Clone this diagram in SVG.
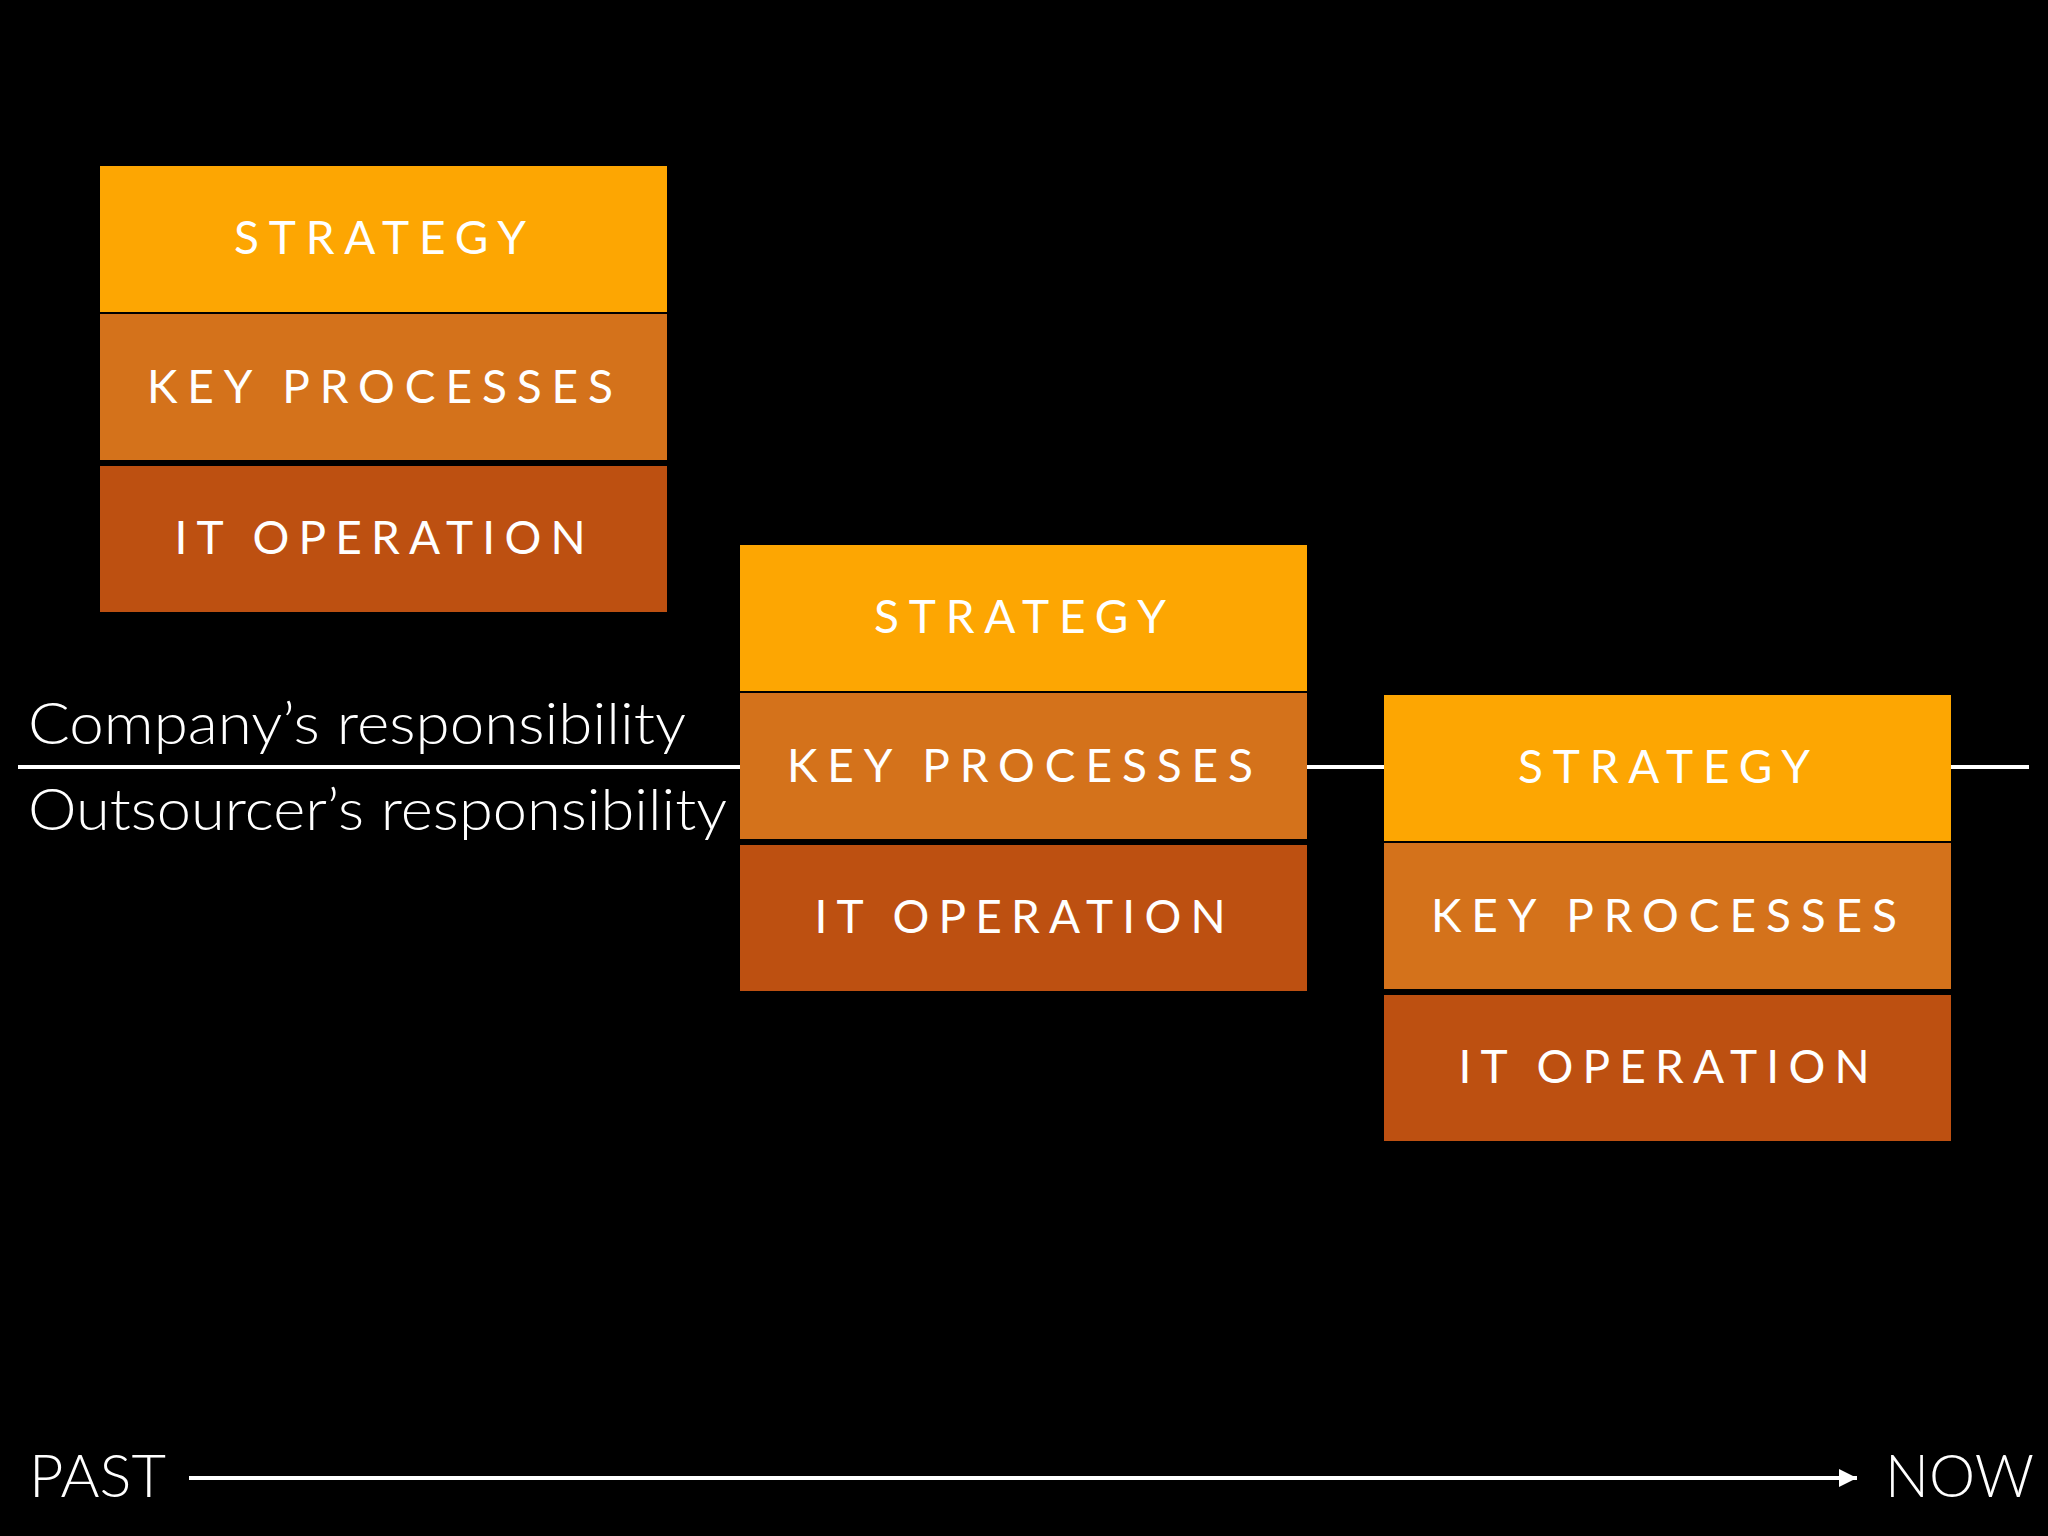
<svg xmlns="http://www.w3.org/2000/svg" width="2048" height="1536" viewBox="0 0 2048 1536">
  <defs>
    <style>
      .bg { fill: #000000; }
      .strategy { fill: #FDA602; }
      .keyproc { fill: #D4721B; }
      .itop { fill: #BD5011; }
      .band-label { font-family: "Lato", "Noto Sans", "Liberation Sans", sans-serif; font-size: 46px; fill: #FFFFFF; text-anchor: middle; }
      .resp { font-family: "Lato", "Noto Sans", "Liberation Sans", sans-serif; font-weight: 300; font-size: 58px; fill: #FFFFFF; }
      .time { font-family: "Lato", "Noto Sans", "Liberation Sans", sans-serif; font-weight: 300; font-size: 60px; fill: #FFFFFF; }
      .line { stroke: #FFFFFF; stroke-width: 4; fill: none; }
    </style>
    <marker id="arrow" viewBox="0 0 10 10" refX="10" refY="5" markerWidth="4.5" markerHeight="4.5" markerUnits="strokeWidth" orient="auto">
      <path d="M0,0 L10,5 L0,10 Z" fill="#FFFFFF"/>
    </marker>
  </defs>

  <rect class="bg" x="0" y="0" width="2048" height="1536"/>

  <g id="connectors">
    <line id="responsibility-divider" class="line" x1="18" y1="767" x2="2029" y2="767"/>
    <line id="timeline" class="line" x1="189" y1="1478" x2="1857" y2="1478" marker-end="url(#arrow)"/>
  </g>

  <g id="stack-past" transform="translate(100,166)">
    <g id="past-strategy">
      <rect class="strategy" x="0" y="0" width="567" height="146"/>
      <text class="band-label" x="280" y="88" textLength="292" lengthAdjust="spacing">STRATEGY</text>
    </g>
    <g id="past-key-processes">
      <rect class="keyproc" x="0" y="148" width="567" height="146"/>
      <text class="band-label" x="280" y="237" textLength="466" lengthAdjust="spacing">KEY PROCESSES</text>
    </g>
    <g id="past-it-operation">
      <rect class="itop" x="0" y="300" width="567" height="146"/>
      <text class="band-label" x="280" y="388" textLength="411" lengthAdjust="spacing">IT OPERATION</text>
    </g>
  </g>

  <g id="stack-middle" transform="translate(740,545)">
    <g id="middle-strategy">
      <rect class="strategy" x="0" y="0" width="567" height="146"/>
      <text class="band-label" x="280" y="88" textLength="292" lengthAdjust="spacing">STRATEGY</text>
    </g>
    <g id="middle-key-processes">
      <rect class="keyproc" x="0" y="148" width="567" height="146"/>
      <text class="band-label" x="280" y="237" textLength="466" lengthAdjust="spacing">KEY PROCESSES</text>
    </g>
    <g id="middle-it-operation">
      <rect class="itop" x="0" y="300" width="567" height="146"/>
      <text class="band-label" x="280" y="388" textLength="411" lengthAdjust="spacing">IT OPERATION</text>
    </g>
  </g>

  <g id="stack-now" transform="translate(1384,695)">
    <g id="now-strategy">
      <rect class="strategy" x="0" y="0" width="567" height="146"/>
      <text class="band-label" x="280" y="88" textLength="292" lengthAdjust="spacing">STRATEGY</text>
    </g>
    <g id="now-key-processes">
      <rect class="keyproc" x="0" y="148" width="567" height="146"/>
      <text class="band-label" x="280" y="237" textLength="466" lengthAdjust="spacing">KEY PROCESSES</text>
    </g>
    <g id="now-it-operation">
      <rect class="itop" x="0" y="300" width="567" height="146"/>
      <text class="band-label" x="280" y="388" textLength="411" lengthAdjust="spacing">IT OPERATION</text>
    </g>
  </g>

  <g id="label-company">
    <text class="resp" x="28" y="744" textLength="658" lengthAdjust="spacingAndGlyphs">Company’s responsibility</text>
  </g>
  <g id="label-outsourcer">
    <text class="resp" x="28" y="830" textLength="699" lengthAdjust="spacingAndGlyphs">Outsourcer’s responsibility</text>
  </g>
  <g id="label-past">
    <text class="time" x="29" y="1497" textLength="137" lengthAdjust="spacingAndGlyphs">PAST</text>
  </g>
  <g id="label-now">
    <text class="time" x="1885" y="1497" textLength="149" lengthAdjust="spacingAndGlyphs">NOW</text>
  </g>
</svg>
